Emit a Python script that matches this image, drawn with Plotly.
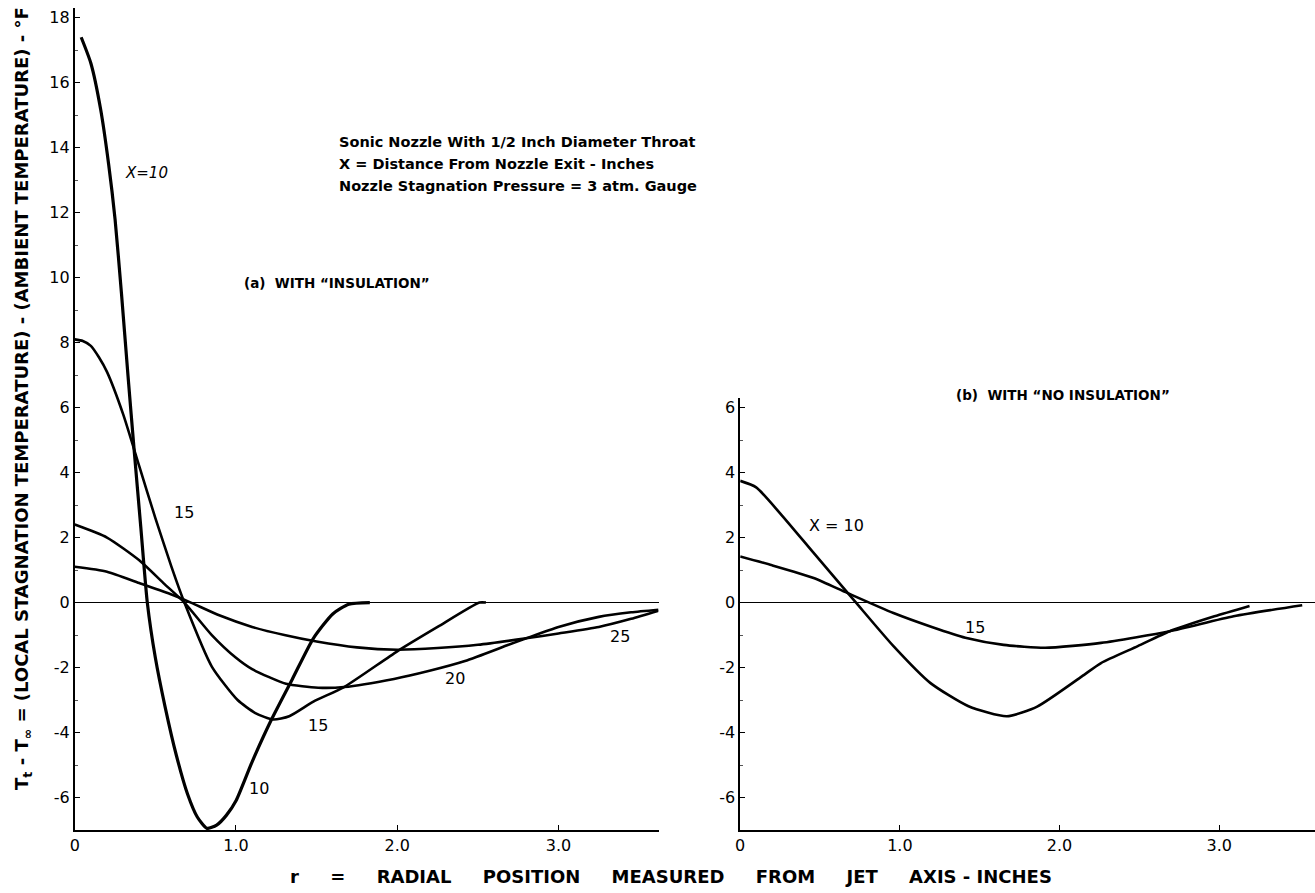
import plotly.graph_objects as go

# ---------------- data ----------------
# Panel (a): with "insulation"
r_a10 = [0.04, 0.10, 0.16, 0.21, 0.25, 0.29, 0.33, 0.37, 0.41, 0.45, 0.50, 0.56, 0.63, 0.70, 0.76, 0.82, 0.88, 0.94, 1.00, 1.10, 1.22, 1.35, 1.48, 1.60, 1.70, 1.83]
t_a10 = [17.4, 16.6, 15.2, 13.5, 11.8, 9.5, 7.0, 4.6, 2.3, 0.0, -1.7, -3.2, -4.7, -5.9, -6.6, -6.95, -6.85, -6.55, -6.1, -4.9, -3.6, -2.35, -1.1, -0.35, -0.05, 0.0]

r_a15 = [0.0, 0.05, 0.10, 0.15, 0.20, 0.30, 0.40, 0.50, 0.60, 0.68, 0.85, 1.01, 1.12, 1.23, 1.33, 1.48, 1.67, 2.00, 2.25, 2.51, 2.55]
t_a15 = [8.1, 8.05, 7.9, 7.55, 7.1, 5.8, 4.2, 2.6, 1.1, 0.0, -1.97, -3.0, -3.4, -3.6, -3.5, -3.05, -2.6, -1.5, -0.75, 0.0, 0.0]

r_a20 = [0.0, 0.20, 0.40, 0.55, 0.68, 0.85, 1.00, 1.10, 1.31, 1.51, 1.67, 1.98, 2.20, 2.42, 2.69, 2.80, 3.00, 3.25, 3.45, 3.62]
t_a20 = [2.4, 2.0, 1.3, 0.6, 0.0, -1.0, -1.7, -2.05, -2.5, -2.62, -2.6, -2.35, -2.1, -1.8, -1.3, -1.1, -0.75, -0.44, -0.3, -0.22]

r_a25 = [0.0, 0.20, 0.40, 0.60, 0.72, 0.90, 1.10, 1.30, 1.50, 1.75, 2.00, 2.25, 2.50, 2.80, 3.00, 3.25, 3.45, 3.62]
t_a25 = [1.1, 0.95, 0.6, 0.25, 0.0, -0.4, -0.75, -1.0, -1.2, -1.38, -1.45, -1.4, -1.3, -1.1, -0.95, -0.75, -0.5, -0.25]

# Panel (b): with "no insulation"
r_b10 = [0.0, 0.10, 0.25, 0.46, 0.72, 0.96, 1.19, 1.43, 1.67, 1.86, 2.14, 2.26, 2.49, 2.69, 2.97, 3.19]
t_b10 = [3.75, 3.55, 2.75, 1.53, 0.03, -1.34, -2.47, -3.19, -3.5, -3.2, -2.27, -1.86, -1.34, -0.88, -0.42, -0.1]

r_b15 = [0.0, 0.20, 0.46, 0.67, 0.96, 1.20, 1.41, 1.65, 1.91, 2.26, 2.69, 3.09, 3.52]
t_b15 = [1.42, 1.15, 0.76, 0.3, -0.32, -0.75, -1.08, -1.3, -1.39, -1.24, -0.88, -0.42, -0.08]

# tick labels
ya_vals = [-6, -4, -2, 0, 2, 4, 6, 8, 10, 12, 14, 16, 18]
ya_text = ["-6", "-4", "-2", "0", "2", "4", "6", "8", "10", "12", "14", "16", "18"]
yb_vals = [-6, -4, -2, 0, 2, 4, 6]
yb_text = ["-6", "-4", "-2", "0", "2", "4", "6"]
x_vals = [0, 1, 2, 3]
x_text = ["0", "1.0", "2.0", "3.0"]

W, H = 1315, 893
def px(x):
    return x / W
def py(y):
    return 1 - y / H

FONT = "DejaVu Sans"
fig = go.Figure()

def curve(r, t, xa, ya, w=2.6):
    fig.add_trace(go.Scatter(x=r, y=t, xaxis=xa, yaxis=ya, mode="lines",
                             line=dict(color="black", width=w, shape="spline", smoothing=0.6),
                             showlegend=False, hoverinfo="skip"))

curve(r_a10, t_a10, "x", "y", 3.2)
curve(r_a15, t_a15, "x", "y")
curve(r_a20, t_a20, "x", "y")
curve(r_a25, t_a25, "x", "y")
curve(r_b10, t_b10, "x2", "y2")
curve(r_b15, t_b15, "x2", "y2")

axis_common = dict(showgrid=False, showline=True, linecolor="black", linewidth=1.8,
                   ticks="inside", ticklen=5, tickcolor="black", tickwidth=1,
                   tickfont=dict(family=FONT, size=16, color="black"),
                   zeroline=False, fixedrange=True)

fig.update_layout(
    width=W, height=H, autosize=False,
    margin=dict(l=0, r=0, t=0, b=0),
    paper_bgcolor="white", plot_bgcolor="white",
    xaxis=dict(domain=[px(70), px(656)], range=[0, 3.62], anchor="y",
               tickvals=x_vals, ticktext=x_text, **axis_common),
    yaxis=dict(domain=[py(830), py(8)], range=[-7, 18.3], anchor="x",
               tickvals=ya_vals, ticktext=ya_text,
               minor=dict(tickvals=[-7, -5, -3, -1, 1, 3, 5, 7, 9, 11, 13, 15, 17], ticks="inside", ticklen=3, tickcolor="#555"),
               **axis_common),
    xaxis2=dict(domain=[px(738), 1.0], range=[0, 3.6], anchor="y2",
                tickvals=x_vals, ticktext=x_text, **axis_common),
    yaxis2=dict(domain=[py(830), py(398)], range=[-7, 6.3], anchor="x2",
                tickvals=yb_vals, ticktext=yb_text,
                minor=dict(tickvals=[-5, -3, -1, 1, 3, 5], ticks="inside", ticklen=3, tickcolor="#555"),
                **axis_common),
)

# zero reference lines (from axis zerolines)
fig.update_yaxes(zeroline=True, zerolinecolor="black", zerolinewidth=1)

ann = []
def add(text, x, y, size=13, xanchor="left", angle=0, italic=False, bold=False):
    t = text
    if bold:
        t = f"<b>{t}</b>"
    if italic:
        t = f"<i>{t}</i>"
    ann.append(dict(text=t, x=px(x), y=py(y), xref="paper", yref="paper",
                    xanchor=xanchor, yanchor="middle", showarrow=False, textangle=angle,
                    font=dict(family=FONT, size=size, color="black")))

add("Sonic Nozzle With 1/2 Inch Diameter Throat", 333, 142, size=14.5, bold=True)
add("X = Distance From Nozzle Exit - Inches", 333, 164, size=14.5, bold=True)
add("Nozzle Stagnation Pressure = 3 atm. Gauge", 333, 186, size=14.5, bold=True)
add("(a)  WITH “INSULATION”", 238, 283, size=13.5, bold=True)
add("(b)  WITH “NO INSULATION”", 953, 395, size=13.5, bold=True)
add("X=10", 118, 173, size=15, italic=True)
add("15", 168, 512, size=16)
add("10", 243, 788, size=16)
add("15", 302, 725, size=16)
add("20", 440, 678, size=16)
add("25", 605, 636, size=16)
add("X = 10", 805, 525, size=16)
add("15", 962, 627, size=16)
nb = "\u00a0"
add(f"r{nb*5}={nb*5}RADIAL{nb*4} POSITION{nb*4} MEASURED{nb*4} FROM{nb*4} JET{nb*4} AXIS{nb}-{nb}INCHES",
    669, 876, size=18, xanchor="center", bold=True)
add("T<sub>t</sub> - T<sub>∞</sub> = (LOCAL STAGNATION TEMPERATURE) - (AMBIENT TEMPERATURE) - °F",
    18, 398, size=18, xanchor="center", angle=-90, bold=True)
fig.update_layout(annotations=ann)

fig.write_html("out.html")
